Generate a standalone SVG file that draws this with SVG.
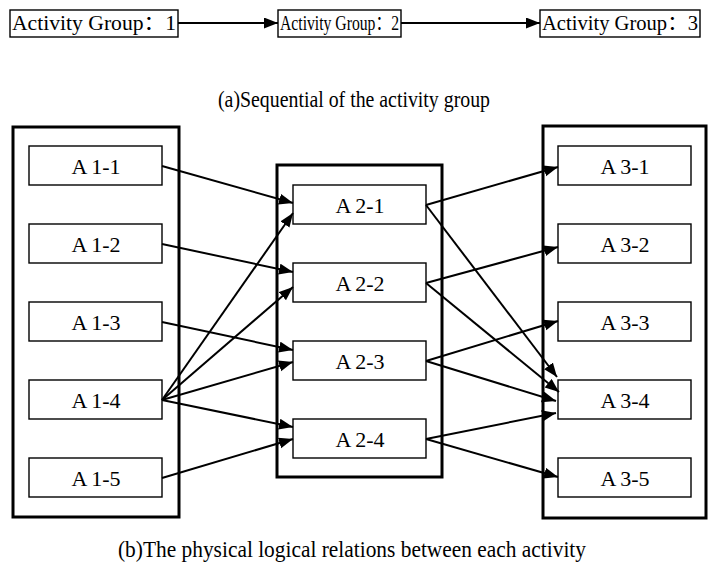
<svg xmlns="http://www.w3.org/2000/svg" width="709" height="569" viewBox="0 0 709 569">
<defs>
<marker id="ah" markerUnits="userSpaceOnUse" markerWidth="15" markerHeight="12" refX="14" refY="5.5" orient="auto">
<path d="M0,0 L14,5.5 L0,11 z" fill="#000"/>
</marker>
<style>
.t{font-family:"Liberation Serif","Times New Roman","Noto Sans CJK SC",serif;fill:#000}
.box{fill:#fff;stroke:#000;stroke-width:1.4}
.outer{fill:none;stroke:#000;stroke-width:3}
.c{stroke:#000;stroke-width:2;fill:none;marker-end:url(#ah)}
.lbl{font-size:22px;text-anchor:middle}
.top{font-size:20px}
.cap{font-size:23px}
</style>
</defs>
<rect width="709" height="569" fill="#fff"/>

<g id="groups">
<g id="group1"><rect class="box" x="10" y="10" width="168" height="27"/><text class="t top" x="12" y="30" textLength="164" lengthAdjust="spacingAndGlyphs">Activity Group：1</text></g>
<g id="group2"><rect class="box" x="278" y="10" width="123" height="27"/><text class="t top" x="280" y="30" textLength="119" lengthAdjust="spacingAndGlyphs">Activity Group：2</text></g>
<g id="group3"><rect class="box" x="540" y="10" width="160" height="27"/><text class="t top" x="542" y="30" textLength="156" lengthAdjust="spacingAndGlyphs">Activity Group：3</text></g>
</g>
<text class="t cap" x="218" y="107" textLength="272" lengthAdjust="spacingAndGlyphs">(a)Sequential of the activity group</text>

<g id="col1">
<rect class="outer" x="13" y="127" width="166" height="390"/>
</g>
<g id="col2">
<rect class="outer" x="277" y="165" width="165" height="312"/>
</g>
<g id="col3">
<rect class="outer" x="543" y="126" width="163" height="392"/>
</g>

<g id="A1-1"><rect class="box" x="29" y="146" width="133" height="39"/><text class="t lbl" x="96" y="174">A<tspan dx="4">1-1</tspan></text></g>
<g id="A1-2"><rect class="box" x="29" y="224" width="133" height="39"/><text class="t lbl" x="96" y="252">A<tspan dx="4">1-2</tspan></text></g>
<g id="A1-3"><rect class="box" x="29" y="302" width="133" height="39"/><text class="t lbl" x="96" y="330">A<tspan dx="4">1-3</tspan></text></g>
<g id="A1-4"><rect class="box" x="29" y="380" width="133" height="39"/><text class="t lbl" x="96" y="408">A<tspan dx="4">1-4</tspan></text></g>
<g id="A1-5"><rect class="box" x="29" y="458" width="133" height="39"/><text class="t lbl" x="96" y="486">A<tspan dx="4">1-5</tspan></text></g>

<g id="A2-1"><rect class="box" x="293" y="185" width="133" height="39"/><text class="t lbl" x="360" y="213">A<tspan dx="4">2-1</tspan></text></g>
<g id="A2-2"><rect class="box" x="293" y="263" width="133" height="39"/><text class="t lbl" x="360" y="291">A<tspan dx="4">2-2</tspan></text></g>
<g id="A2-3"><rect class="box" x="293" y="341" width="133" height="39"/><text class="t lbl" x="360" y="369">A<tspan dx="4">2-3</tspan></text></g>
<g id="A2-4"><rect class="box" x="293" y="419" width="133" height="39"/><text class="t lbl" x="360" y="447">A<tspan dx="4">2-4</tspan></text></g>

<g id="A3-1"><rect class="box" x="558" y="146" width="133" height="39"/><text class="t lbl" x="625" y="174">A<tspan dx="4">3-1</tspan></text></g>
<g id="A3-2"><rect class="box" x="558" y="224" width="133" height="39"/><text class="t lbl" x="625" y="252">A<tspan dx="4">3-2</tspan></text></g>
<g id="A3-3"><rect class="box" x="558" y="302" width="133" height="39"/><text class="t lbl" x="625" y="330">A<tspan dx="4">3-3</tspan></text></g>
<g id="A3-4"><rect class="box" x="558" y="380" width="133" height="39"/><text class="t lbl" x="625" y="408">A<tspan dx="4">3-4</tspan></text></g>
<g id="A3-5"><rect class="box" x="558" y="458" width="133" height="39"/><text class="t lbl" x="625" y="486">A<tspan dx="4">3-5</tspan></text></g>

<text class="t cap" x="118" y="557" textLength="468" lengthAdjust="spacingAndGlyphs">(b)The physical logical relations between each activity</text>

<g id="connectors">
<line class="c" x1="178" y1="23" x2="278" y2="23"/>
<line class="c" x1="401" y1="23" x2="540" y2="23"/>

<line class="c" x1="162" y1="166" x2="293" y2="203"/>
<line class="c" x1="162" y1="244" x2="293" y2="272"/>
<line class="c" x1="162" y1="322" x2="293" y2="350"/>
<line class="c" x1="162" y1="400" x2="293" y2="213"/>
<line class="c" x1="162" y1="400" x2="293" y2="287"/>
<line class="c" x1="162" y1="400" x2="293" y2="362"/>
<line class="c" x1="162" y1="400" x2="293" y2="427"/>
<line class="c" x1="162" y1="478" x2="293" y2="439"/>

<line class="c" x1="426" y1="205" x2="558" y2="167"/>
<line class="c" x1="426" y1="205" x2="557" y2="377"/>
<line class="c" x1="426" y1="283" x2="558" y2="247"/>
<line class="c" x1="426" y1="283" x2="559" y2="392"/>
<line class="c" x1="426" y1="361" x2="558" y2="321"/>
<line class="c" x1="426" y1="361" x2="556" y2="401"/>
<line class="c" x1="426" y1="439" x2="556" y2="413"/>
<line class="c" x1="426" y1="439" x2="558" y2="477"/>
</g>
</svg>
